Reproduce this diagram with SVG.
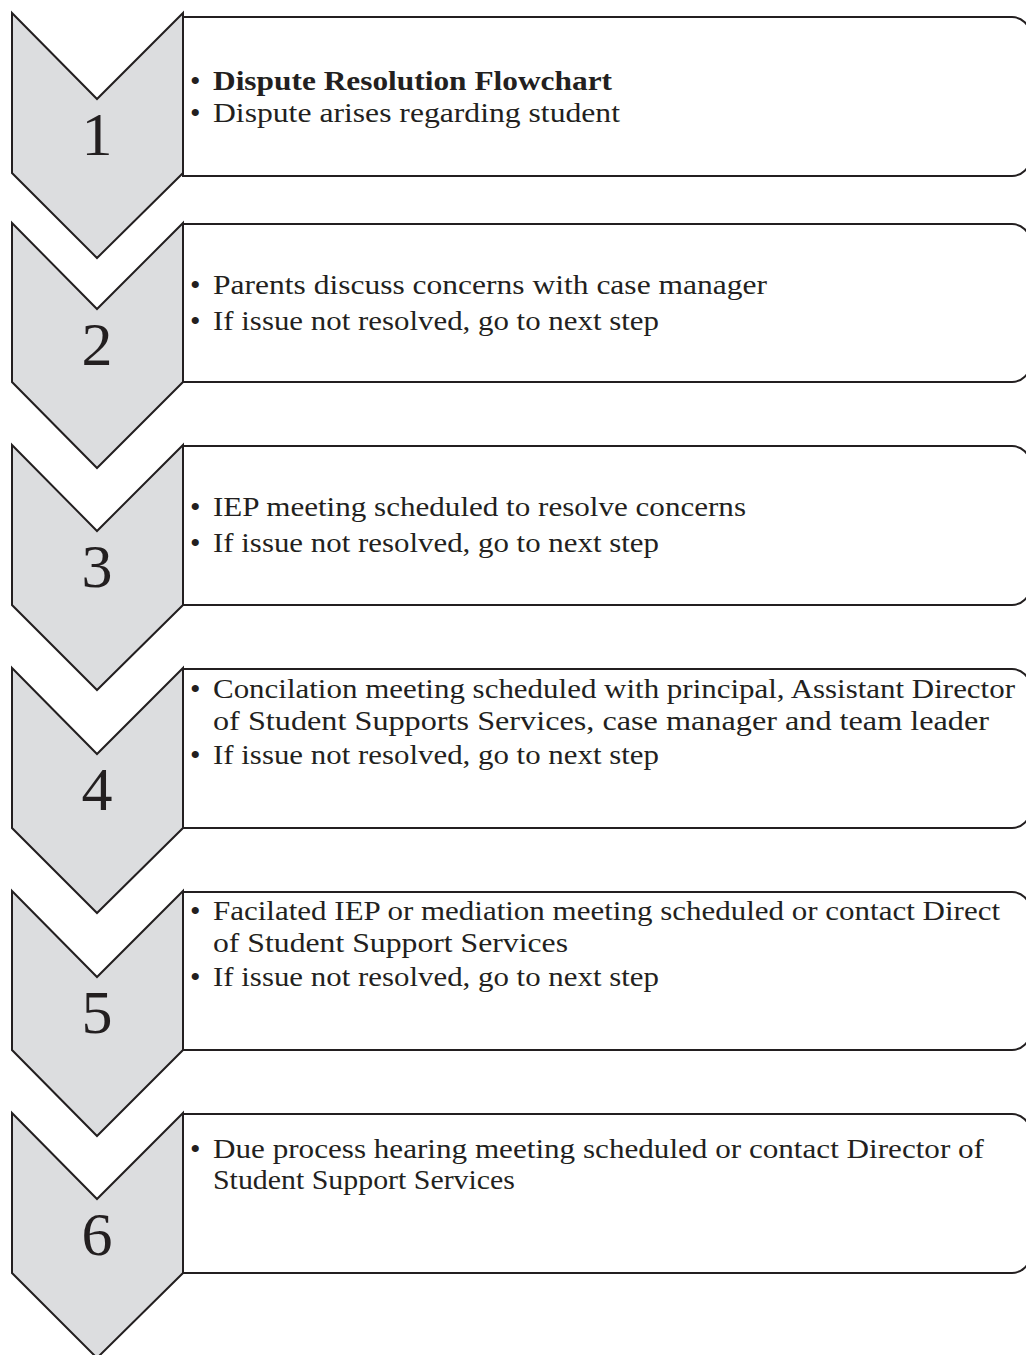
<svg xmlns="http://www.w3.org/2000/svg" width="1026" height="1355" viewBox="0 0 1026 1355">
<style>
.chev{fill:#dcdddf;stroke:#231f20;stroke-width:2;stroke-linejoin:miter}
.box{fill:#ffffff;stroke:#231f20;stroke-width:2}
.num{font-family:"Liberation Serif",serif;font-size:62px;fill:#231f20;text-anchor:middle}
.t{font-family:"Liberation Serif",serif;font-size:27px;fill:#231f20}
.bu{font-family:"Liberation Serif",serif;font-size:30px;fill:#231f20}
.b{font-weight:bold}
</style>
<rect width="1026" height="1355" fill="#ffffff"/>
<g id="connectors"></g>

<g id="step1">
<path class="box" d="M183,17 H1012 A18,18 0 0 1 1030,35 V158 A18,18 0 0 1 1012,176 H183 Z"/>
<polygon class="chev" points="12,13 97,99 183,13 183,173 97,258 12,173"/>
<text class="num" x="97" y="155">1</text>
<text class="bu" x="190" y="91">•</text>
<text class="t b" x="213" y="90" textLength="399" lengthAdjust="spacingAndGlyphs">Dispute Resolution Flowchart</text>
<text class="bu" x="190" y="123">•</text>
<text class="t" x="213" y="122" textLength="407" lengthAdjust="spacingAndGlyphs">Dispute arises regarding student</text>
</g>

<g id="step2">
<path class="box" d="M183,224 H1012 A18,18 0 0 1 1030,242 V364 A18,18 0 0 1 1012,382 H183 Z"/>
<polygon class="chev" points="12,223 97,309 183,223 183,382 97,468 12,382"/>
<text class="num" x="97" y="365">2</text>
<text class="bu" x="190" y="295">•</text>
<text class="t" x="213" y="294" textLength="554" lengthAdjust="spacingAndGlyphs">Parents discuss concerns with case manager</text>
<text class="bu" x="190" y="331">•</text>
<text class="t" x="213" y="330" textLength="446" lengthAdjust="spacingAndGlyphs">If issue not resolved, go to next step</text>
</g>

<g id="step3">
<path class="box" d="M183,446 H1012 A18,18 0 0 1 1030,464 V587 A18,18 0 0 1 1012,605 H183 Z"/>
<polygon class="chev" points="12,445 97,531 183,445 183,605 97,690 12,605"/>
<text class="num" x="97" y="587">3</text>
<text class="bu" x="190" y="517">•</text>
<text class="t" x="213" y="516" textLength="533" lengthAdjust="spacingAndGlyphs">IEP meeting scheduled to resolve concerns</text>
<text class="bu" x="190" y="553">•</text>
<text class="t" x="213" y="552" textLength="446" lengthAdjust="spacingAndGlyphs">If issue not resolved, go to next step</text>
</g>

<g id="step4">
<path class="box" d="M183,669 H1012 A18,18 0 0 1 1030,687 V810 A18,18 0 0 1 1012,828 H183 Z"/>
<polygon class="chev" points="12,668 97,754 183,668 183,828 97,913 12,828"/>
<text class="num" x="97" y="810">4</text>
<text class="bu" x="190" y="699">•</text>
<text class="t" x="213" y="698" textLength="802" lengthAdjust="spacingAndGlyphs">Concilation meeting scheduled with principal, Assistant Director</text>
<text class="t" x="213" y="730" textLength="776" lengthAdjust="spacingAndGlyphs">of Student Supports Services, case manager and team leader</text>
<text class="bu" x="190" y="765">•</text>
<text class="t" x="213" y="764" textLength="446" lengthAdjust="spacingAndGlyphs">If issue not resolved, go to next step</text>
</g>

<g id="step5">
<path class="box" d="M183,892 H1012 A18,18 0 0 1 1030,910 V1032 A18,18 0 0 1 1012,1050 H183 Z"/>
<polygon class="chev" points="12,891 97,977 183,891 183,1050 97,1136 12,1050"/>
<text class="num" x="97" y="1033">5</text>
<text class="bu" x="190" y="921">•</text>
<text class="t" x="213" y="920" textLength="787" lengthAdjust="spacingAndGlyphs">Facilated IEP or mediation meeting scheduled or contact Direct</text>
<text class="t" x="213" y="952" textLength="355" lengthAdjust="spacingAndGlyphs">of Student Support Services</text>
<text class="bu" x="190" y="987">•</text>
<text class="t" x="213" y="986" textLength="446" lengthAdjust="spacingAndGlyphs">If issue not resolved, go to next step</text>
</g>

<g id="step6">
<path class="box" d="M183,1114 H1012 A18,18 0 0 1 1030,1132 V1255 A18,18 0 0 1 1012,1273 H183 Z"/>
<polygon class="chev" points="12,1113 97,1199 183,1113 183,1273 97,1358 12,1273"/>
<text class="num" x="97" y="1255">6</text>
<text class="bu" x="190" y="1159">•</text>
<text class="t" x="213" y="1158" textLength="771" lengthAdjust="spacingAndGlyphs">Due process hearing meeting scheduled or contact Director of</text>
<text class="t" x="213" y="1189" textLength="302" lengthAdjust="spacingAndGlyphs">Student Support Services</text>
</g>
</svg>
